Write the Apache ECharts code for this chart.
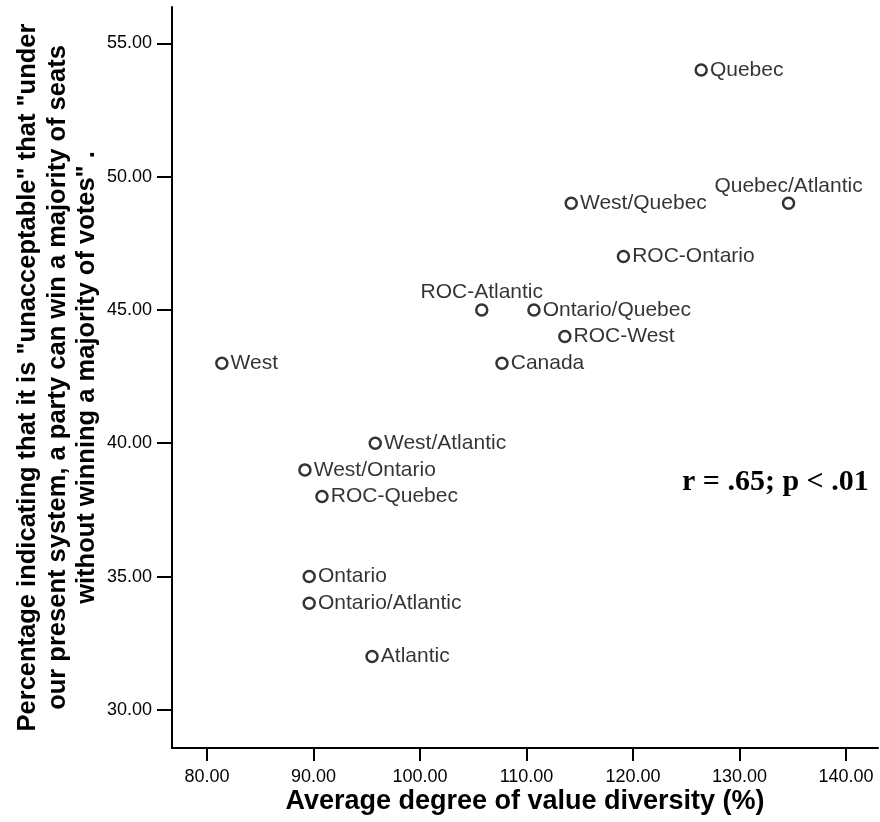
<!DOCTYPE html>
<html>
<head>
<meta charset="utf-8">
<script src="https://cdn.jsdelivr.net/npm/echarts@6/dist/echarts.min.js"></script>
<style>
  html, body { margin: 0; padding: 0; background: #fff; }
  #chart { width: 880px; height: 822px; }
</style>
</head>
<body>
<div id="chart"></div>
<script>
// groups and their values
var groups = ['Quebec', 'Quebec/Atlantic', 'West/Quebec', 'ROC-Ontario', 'ROC-Atlantic',
  'Ontario/Quebec', 'ROC-West', 'Canada', 'West', 'West/Atlantic', 'West/Ontario',
  'ROC-Quebec', 'Ontario', 'Ontario/Atlantic', 'Atlantic'];
var diversity = [126.4, 134.6, 114.2, 119.1, 105.8, 110.7, 113.6, 107.7, 81.4, 95.8, 89.2,
  90.8, 89.6, 89.6, 95.5];
var unacceptable = [54, 49, 49, 47, 45, 45, 44, 43, 43, 40, 39, 38, 35, 34, 32];
// labels that sit above their marker instead of to the right
var labelsAbove = ['ROC-Atlantic', 'Quebec/Atlantic'];

var xTicks = [80, 90, 100, 110, 120, 130, 140];
var yTicks = [30, 35, 40, 45, 50, 55];

var xTitle = 'Average degree of value diversity (%)';
var yTitle = 'Percentage indicating that it is "unacceptable" that "under\n' +
  'our present system, a party can win a majority of seats\n' +
  'without winning a majority of votes" .';
var note = 'r = .65; p < .01';

var sans = '"Liberation Sans", Arial, Helvetica, sans-serif';

var points = groups.map(function (g, i) {
  var above = labelsAbove.indexOf(g) >= 0;
  return {
    name: g,
    value: [diversity[i], unacceptable[i]],
    label: above ? { position: 'top', distance: 0 } : { position: 'right', distance: 2 }
  };
});

var chart = echarts.init(document.getElementById('chart'));

chart.setOption({
  backgroundColor: '#fff',
  animation: false,
  grid: {
    left: 172, right: 2, top: 7, bottom: 74,
    containLabel: false,
    outerBoundsMode: 'none'
  },
  xAxis: {
    type: 'value',
    min: 76.72,
    max: 143,
    splitLine: { show: false },
    axisLine: { lineStyle: { color: '#000', width: 2 } },
    axisTick: { length: 13, lineStyle: { color: '#000', width: 2 }, customValues: xTicks },
    axisLabel: {
      customValues: xTicks,
      margin: 20,
      color: '#000',
      fontFamily: sans,
      fontSize: 18,
      formatter: function (v) { return v.toFixed(2); }
    },
    name: xTitle,
    nameLocation: 'middle',
    nameGap: 40,
    nameMoveOverlap: false,
    nameTextStyle: { color: '#000', fontFamily: sans, fontWeight: 'bold', fontSize: 27 }
  },
  yAxis: {
    type: 'value',
    min: 28.57,
    max: 56.36,
    splitLine: { show: false },
    axisLine: { show: true, lineStyle: { color: '#000', width: 2 } },
    axisTick: { show: true, length: 15, lineStyle: { color: '#000', width: 2 }, customValues: yTicks },
    axisLabel: {
      customValues: yTicks,
      margin: 20,
      color: '#000',
      fontFamily: sans,
      fontSize: 18,
      formatter: function (v) { return v.toFixed(2); }
    },
    name: yTitle,
    nameLocation: 'middle',
    nameRotate: 90,
    nameGap: 70,
    nameMoveOverlap: false,
    nameTextStyle: {
      color: '#000', fontFamily: sans, fontWeight: 'bold', fontSize: 25.5,
      lineHeight: 29.5, align: 'center'
    }
  },
  graphic: [{
    type: 'text',
    left: 682,
    top: 467,
    style: {
      text: note,
      fill: '#000',
      font: 'bold 30px "Liberation Serif", "Times New Roman", serif'
    }
  }],
  series: [{
    type: 'scatter',
    data: points,
    symbol: 'circle',
    symbolSize: 11,
    itemStyle: { color: '#fff', borderColor: '#000', borderWidth: 2.5 },
    label: {
      show: true,
      formatter: '{b}',
      color: '#000',
      fontFamily: sans,
      fontSize: 21
    },
    emphasis: { disabled: true }
  }]
});

window.onresize = chart.resize;
</script>
</body>
</html>
